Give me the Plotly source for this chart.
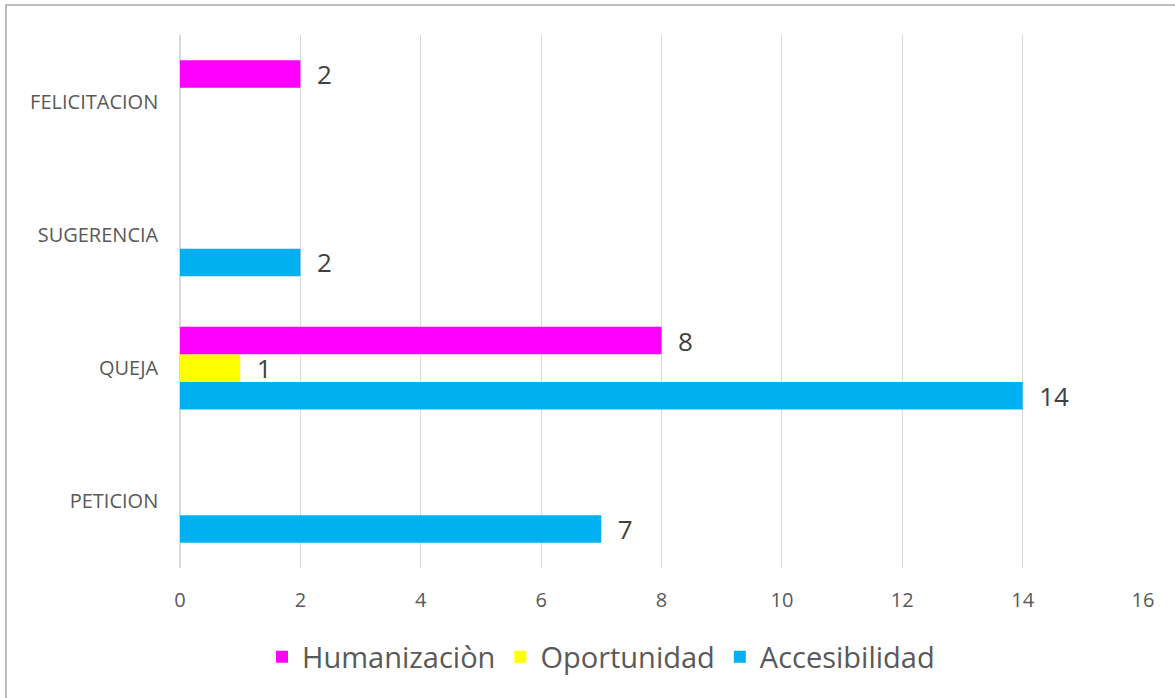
import plotly.graph_objects as go

categories = ["PETICION", "QUEJA", "SUGERENCIA", "FELICITACION"]
humanizacion = [None, 8, None, 2]
oportunidad = [None, 1, None, None]
accesibilidad = [7, 14, 2, None]
x_ticks = [0, 2, 4, 6, 8, 10, 12, 14, 16]

FONT = "Open Sans"
W, H = 1175, 698
L, R, T, B = 180, 32, 35, 130

def lab(vals):
    return ["  " + str(v) if v is not None else "" for v in vals]

fig = go.Figure()
series = [
    ("Accesibilidad", accesibilidad, "#00B0F0"),
    ("Oportunidad", oportunidad, "#FFFF00"),
    ("Humanizaciòn", humanizacion, "#FF00FF"),
]
for name, vals, col in series:
    fig.add_trace(go.Bar(
        y=categories, x=vals, name=name, orientation="h",
        marker=dict(color=col, line=dict(width=0)),
        text=lab(vals), textposition="outside", cliponaxis=False,
        constraintext="none",
        textfont=dict(size=26, color="#404040", family=FONT),
        hoverinfo="x+y",
    ))

pw = W - L - R
ph = H - T - B
fig.update_layout(
    width=W, height=H,
    margin=dict(l=L, r=R, t=T, b=B),
    paper_bgcolor="white", plot_bgcolor="white",
    barmode="group", bargap=0.38, bargroupgap=0,
    font=dict(family=FONT, color="#595959"),
    xaxis=dict(range=[0, 16], tickvals=x_ticks, showgrid=True, gridcolor="#D9D9D9",
               gridwidth=1, zeroline=True, zerolinecolor="#D9D9D9", showline=False,
               tickfont=dict(size=20, color="#595959"), ticks="", ticklen=0,
               ticklabelstandoff=18),
    yaxis=dict(categoryorder="array", categoryarray=categories, showgrid=False,
               showline=False, ticks="", tickfont=dict(size=20, color="#595959"),
               ticksuffix="    "),
    legend=dict(orientation="h", xref="container", yref="container",
                x=601 / W, xanchor="center", y=1 - 657 / H, yanchor="middle",
                traceorder="reversed", font=dict(size=29, color="#595959"),
                itemwidth=30),
    showlegend=True,
    shapes=[dict(type="rect", xref="paper", yref="paper",
                 x0=(6 - L) / pw, x1=(1190 - L) / pw,
                 y0=(H - B - 710) / ph, y1=(H - B - 5) / ph,
                 line=dict(color="#A6A6A6", width=1.5), fillcolor="rgba(0,0,0,0)",
                 layer="below")],
)
fig.write_html("out.html", config={"displayModeBar": False},
               post_script="document.body.style.margin='0';document.body.style.overflow='hidden';")
